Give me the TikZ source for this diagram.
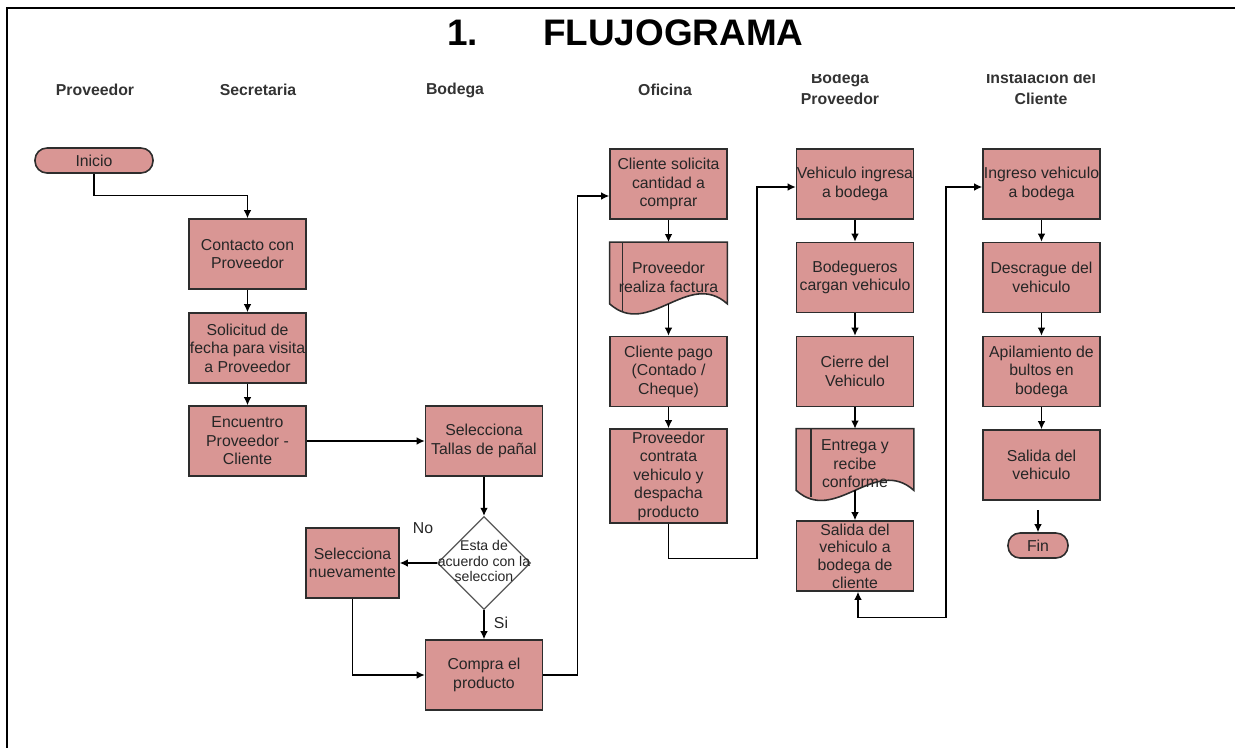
\documentclass[tikz,border=0pt]{standalone}
\usepackage{fontspec}
\setmainfont{Liberation Sans}
\usepackage{tikz}
\usetikzlibrary{shapes.geometric,arrows.meta,positioning,calc,backgrounds}
\usepackage{xcolor}
\definecolor{rosa}{RGB}{217,150,148}
\definecolor{borde}{RGB}{45,45,45}
\newcommand{\fuentecaja}{\fontsize{9}{10.5}\selectfont}
\newcommand{\fuentedec}{\fontsize{8}{9}\selectfont}

\begin{document}
\begin{tikzpicture}[x=0.2mm,y=-0.2mm,
    paso/.style={draw=borde, line width=0.9pt, fill=rosa, minimum width=23.4mm,
      minimum height=14mm, inner sep=0pt, align=center, font=\fuentecaja, text=black!85},
    docu/.style={minimum width=23.4mm, minimum height=14mm, inner sep=0pt,
      align=center, font=\fuentecaja, text=black!85},
    terminal/.style={draw=borde, line width=0.9pt, fill=rosa, rounded corners=2.4mm,
      minimum height=5mm, inner sep=0pt, font=\fuentecaja, text=black!85},
    decision/.style={diamond, draw=borde!80, line width=0.7pt, fill=white,
      minimum width=18.6mm, minimum height=18.6mm, inner sep=0pt, font=\fuentedec, text=black!85},
    carril/.style={font=\fontsize{9}{12}\selectfont\bfseries, text=black!80, align=center},
    etiq/.style={font=\fontsize{9}{10}\selectfont, text=black!85},
    flecha/.style={draw=black, line width=0.7pt, -{Latex[length=1.6mm,width=1.5mm]}},
    dobleflecha/.style={draw=black, line width=0.7pt, {Latex[length=1.6mm,width=1.5mm]}-{Latex[length=1.6mm,width=1.5mm]}},
  ]
  \useasboundingbox (0,0) rectangle (1235,748);

  % Frame and title
  \draw[line width=1.2pt] (1235,8) -- (7,8) -- (7,748);
  \node[anchor=base west, inner sep=0pt, font=\fontsize{21}{24}\selectfont\bfseries]
    (titulo) at (447,45) {1.\hspace{13mm}FLUJOGRAMA};

  % Lanes
  \node[carril] (cProv) at (95,90) {Proveedor};
  \node[carril] (cSecr) at (258,90) {Secretaria};
  \node[carril] (cBod) at (455,90) {Bodega};
  \node[carril] (cOfi) at (665,90) {Oficina};
  \begin{scope}
    \clip (760,74) rectangle (1120,120);
    \node[carril] (cBodProv) at (840,88.5) {Bodega\\Proveedor};
    \node[carril] (cInst) at (1041,88.5) {Instalacion del\\Cliente};
  \end{scope}

  % Proveedor / Secretaria
  \node[terminal, minimum width=23.6mm] (inicio) at (94,160.5) {Inicio};
  \node[paso] (contacto) at (247.5,254) {Contacto con\\Proveedor};
  \node[paso] (solicitud) at (247.5,348) {Solicitud de\\fecha para visita\\a Proveedor};
  \node[paso] (encuentro) at (247.5,441) {Encuentro\\Proveedor -\\Cliente};

  % Bodega
  \node[paso] (tallas) at (484,441) {Selecciona\\Tallas de pañal};
  \node[decision] (acuerdo) at (484,563)
    {\makebox[0pt]{\begin{tabular}{@{}c@{}}Esta de\\acuerdo con la\\seleccion\end{tabular}}};
  \node[paso, minimum width=18.6mm] (nuevamente) at (352.5,563) {Selecciona\\nuevamente};
  \node[paso] (compra) at (484,675) {Compra el\\producto};
  \node[etiq] (lblNo) at (423,528) {No};
  \node[etiq] (lblSi) at (501,623) {Si};

  % Oficina
  \node[paso] (solicita) at (668.5,184) {Cliente solicita\\cantidad a\\comprar};
  \node[docu] (factura) at (668.5,277.5) {Proveedor\\realiza factura};
  \node[paso] (pago) at (668.5,371.5) {Cliente pago\\(Contado /\\Cheque)};
  \node[paso, minimum height=18.8mm] (contrata) at (668.5,476)
    {Proveedor\\contrata\\vehiculo y\\despacha\\producto};

  % Bodega Proveedor
  \node[paso] (ingresa) at (855,184) {Vehiculo ingresa\\a bodega};
  \node[paso] (cargan) at (855,277.5) {Bodegueros\\cargan vehiculo};
  \node[paso] (cierre) at (855,371.5) {Cierre del\\Vehiculo};
  \node[docu] (entrega) at (855,464) {Entrega y\\recibe\\conforme};
  \node[paso, font=\fontsize{9}{10}\selectfont] (salidaBod) at (855,556)
    {Salida del\\vehiculo a\\bodega de\\cliente};

  % Instalacion del Cliente
  \node[paso] (ingreso) at (1041.5,184) {Ingreso vehiculo\\a bodega};
  \node[paso] (descargue) at (1041.5,277.5) {Descrague del\\vehiculo};
  \node[paso] (apila) at (1041.5,371.5) {Apilamiento de\\bultos en\\bodega};
  \node[paso] (salidaVeh) at (1041.5,465) {Salida del\\vehiculo};
  \node[terminal, minimum width=12mm] (fin) at (1038,545.5) {Fin};

  % Document shapes
  \begin{scope}[on background layer]
    \foreach \d/\m in {factura/2.6mm, entrega/3mm} {
      \draw[draw=borde, line width=0.9pt, fill=rosa] (\d.north west) -- (\d.north east)
        -- ([yshift=1.8mm]\d.south east) .. controls +(-39,-35) and +(39,35) ..
        ([yshift=1.8mm]\d.south west) -- cycle;
      \draw[draw=borde, line width=0.9pt] ([xshift=\m]\d.north west) -- ([xshift=\m,yshift=0.4mm]\d.south west);
    }
  \end{scope}

  % Connectors
  \draw[flecha] (inicio.south) -- ++(0,22) -| (contacto.north);
  \draw[flecha] (contacto) -- (solicitud);
  \draw[flecha] (solicitud) -- (encuentro);
  \draw[flecha] (encuentro) -- (tallas);
  \draw[flecha] (tallas) -- (acuerdo);
  \draw[flecha] (acuerdo) -- (nuevamente);
  \draw[flecha] (acuerdo) -- (compra);
  \draw[flecha] (nuevamente.south) |- (compra.west);
  \draw[flecha] (compra.east) -- ++(34,0) |- ([yshift=-2.4mm]solicita.west);

  \draw[flecha] (solicita) -- (factura);
  \draw[flecha] ([yshift=1.8mm]factura.south) -- (pago.north);
  \draw[flecha] (pago) -- (contrata);
  \draw[flecha] (contrata.south) -- ++(0,35) -- ++(88.5,0) |- ([yshift=-0.6mm]ingresa.west);

  \draw[flecha] (ingresa) -- (cargan);
  \draw[flecha] (cargan) -- (cierre);
  \draw[flecha] (cierre) -- (entrega);
  \draw[flecha] ([yshift=1.8mm]entrega.south) -- (salidaBod.north);
  \draw[dobleflecha] ([xshift=0.6mm]salidaBod.south) -- ++(0,26) -- ++(88,0) |- ([yshift=-0.6mm]ingreso.west);

  \draw[flecha] (ingreso) -- (descargue);
  \draw[flecha] (descargue) -- (apila);
  \draw[flecha] (apila) -- (salidaVeh);
  \draw[flecha] ([yshift=4.4mm]fin.north) -- (fin.north);
\end{tikzpicture}
\end{document}
